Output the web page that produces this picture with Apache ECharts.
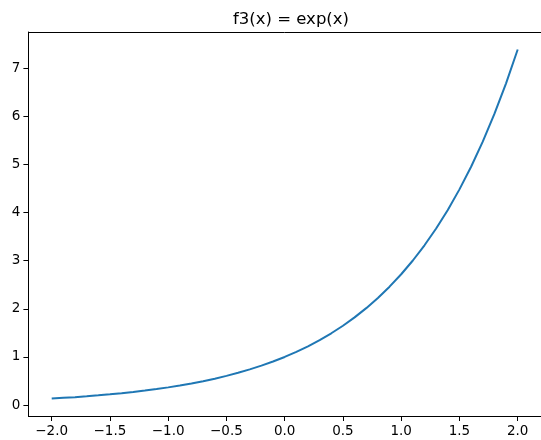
<!DOCTYPE html>
<html>
<head>
<meta charset="utf-8">
<script src="https://cdn.jsdelivr.net/npm/echarts@6/dist/echarts.min.js"></script>
<style>
  html, body { margin: 0; padding: 0; background: #fff; }
  #main { width: 541px; height: 440px; }
</style>
</head>
<body>
<div id="main"></div>
<script>
// values
const xValues = [-2.0, -1.9, -1.8, -1.7, -1.6, -1.5, -1.4, -1.3, -1.2, -1.1, -1.0,
  -0.9, -0.8, -0.7, -0.6, -0.5, -0.4, -0.3, -0.2, -0.1, 0.0,
  0.1, 0.2, 0.3, 0.4, 0.5, 0.6, 0.7, 0.8, 0.9, 1.0,
  1.1, 1.2, 1.3, 1.4, 1.5, 1.6, 1.7, 1.8, 1.9, 2.0]
const yValues = [0.135, 0.150, 0.165, 0.183, 0.202, 0.223, 0.247, 0.273, 0.301, 0.333, 0.368,
  0.407, 0.449, 0.497, 0.549, 0.607, 0.670, 0.741, 0.819, 0.905, 1.000,
  1.105, 1.221, 1.350, 1.492, 1.649, 1.822, 2.014, 2.226, 2.460, 2.718,
  3.004, 3.320, 3.669, 4.055, 4.482, 4.953, 5.474, 6.050, 6.686, 7.389]
const xTicks = [-2.0, -1.5, -1.0, -0.5, 0.0, 0.5, 1.0, 1.5, 2.0]
const yTicks = [0, 1, 2, 3, 4, 5, 6, 7]
const titleText = 'f3(x) = exp(x)'

const font = 'DejaVu Sans'
const fmt = v => (v < 0 ? '\u2212' : '') + Math.abs(v).toFixed(1)

const chart = echarts.init(document.getElementById('main'))
chart.setOption({
  animation: false,
  backgroundColor: '#fff',
  title: {
    text: titleText,
    left: 286,
    textAlign: 'center',
    top: 6,
    textStyle: { fontFamily: font, fontSize: 16.5, fontWeight: 'normal', color: '#000' }
  },
  grid: { left: 28.4, right: -3, top: 32, bottom: 24, containLabel: false },
  xAxis: [{
    type: 'value',
    min: -2.2,
    max: 2.2,
    splitLine: { show: false },
    axisLine: { show: true, onZero: false, lineStyle: { color: '#000', width: 1 } },
    axisTick: { show: true, inside: false, length: 5, customValues: xTicks, lineStyle: { color: '#000' } },
    axisLabel: {
      customValues: xTicks, formatter: fmt, margin: 8,
      fontFamily: font, fontSize: 13.5, color: '#000'
    }
  }, {
    type: 'value',
    position: 'top',
    min: -2.2,
    max: 2.2,
    splitLine: { show: false },
    axisLine: { show: true, onZero: false, lineStyle: { color: '#000', width: 1 } },
    axisTick: { show: false },
    axisLabel: { show: false }
  }],
  yAxis: [{
    type: 'value',
    min: -0.227,
    max: 7.752,
    splitLine: { show: false },
    axisLine: { show: true, onZero: false, lineStyle: { color: '#000', width: 1 } },
    axisTick: { show: true, inside: false, length: 5, customValues: yTicks, lineStyle: { color: '#000' } },
    axisLabel: {
      customValues: yTicks, formatter: v => String(Math.round(v)), margin: 8,
      fontFamily: font, fontSize: 13.5, color: '#000'
    }
  }],
  series: [{
    type: 'line',
    data: xValues.map((x, i) => [x, yValues[i]]),
    showSymbol: false,
    smooth: false,
    lineStyle: { color: '#1f77b4', width: 2 }
  }]
})
</script>
</body>
</html>
